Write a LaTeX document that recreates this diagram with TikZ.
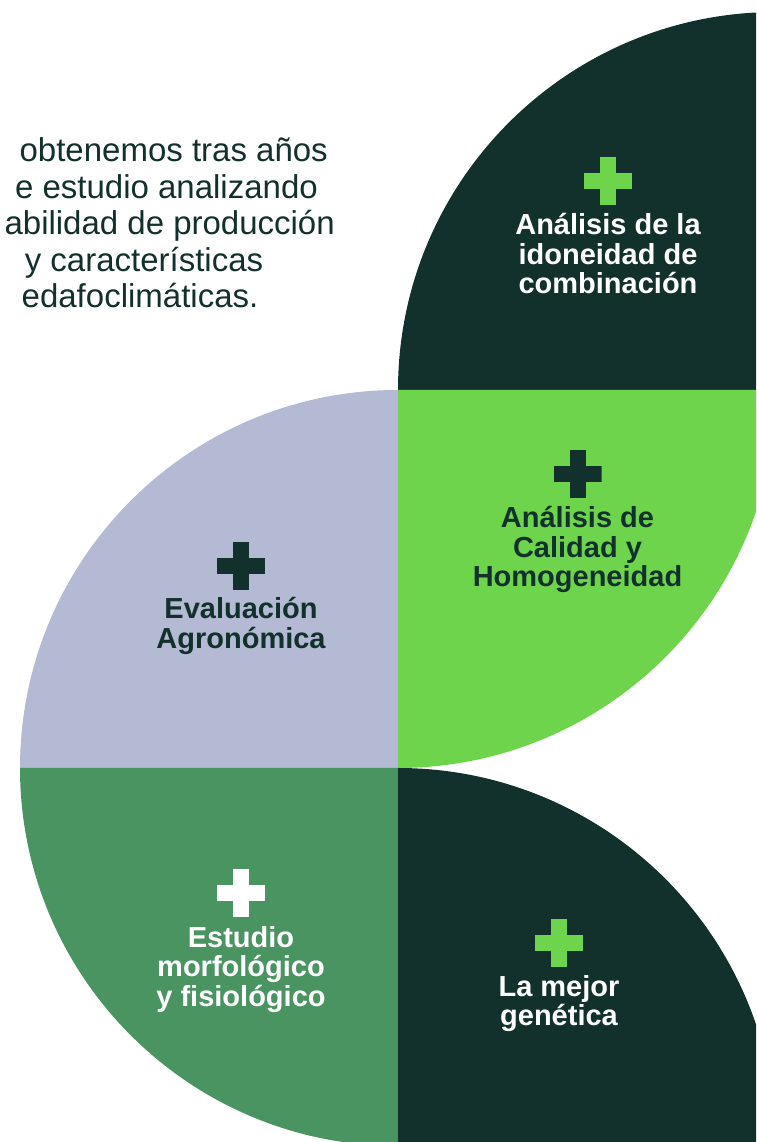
\documentclass[tikz,border=0pt]{standalone}
\usepackage{fontspec}
\setmainfont{Liberation Sans}
\usepackage{xcolor}
\usepackage{tikz}
\usetikzlibrary{positioning}

\definecolor{pinedark}{HTML}{12312C}
\definecolor{leafgreen}{HTML}{6ED44B}
\definecolor{lavgrey}{HTML}{B4B9D4}
\definecolor{mossgreen}{HTML}{4A9462}

\tikzset{
  plussign/.style={minimum size=48pt, inner sep=0pt, path picture={
      \fill[#1] ([xshift=-8pt]path picture bounding box.north) rectangle ([xshift=8pt]path picture bounding box.south);
      \fill[#1] ([yshift=8pt]path picture bounding box.west) rectangle ([yshift=-8pt]path picture bounding box.east);}},
  blocktext/.style={align=center, inner sep=0pt, text=#1,
      font=\fontsize{29}{29.5}\selectfont\bfseries},
  introtext/.style={inner sep=0pt, text=pinedark,
      font=\fontsize{33}{36.5}\selectfont}
}

\begin{document}
\begin{tikzpicture}[x=1pt, y=1pt]
        \useasboundingbox (0,0) rectangle (756,1142);
        \clip (0,0) rectangle (756,1142);

        % Add the quarter discs
        \fill[pinedark]  (776,752) -- (398,752) arc[start angle=180, end angle=90, radius=378] -- cycle;
        \fill[leafgreen] (398,752) -- (776,752) arc[start angle=0, end angle=-90, radius=378] -- cycle;
        \fill[lavgrey]   (398,374) -- (398,752) arc[start angle=90, end angle=180, radius=378] -- cycle;
        \fill[mossgreen] (398,374) -- (20,374) arc[start angle=180, end angle=270, radius=378] -- cycle;
        \fill[pinedark]  (398,-4) -- (776,-4) arc[start angle=0, end angle=90, radius=378] -- cycle;

        % Add the intro text
        \node[introtext, anchor=base east] (t1) at (328,980)   {obtenemos tras años};
        \node[introtext, anchor=base east] (t2) at (318,943.5) {e estudio analizando};
        \node[introtext, anchor=base east] (t3) at (335,907)   {abilidad de producción};
        \node[introtext, anchor=base]      (t4) at (144,870.5) {y características};
        \node[introtext, anchor=base]      (t5) at (140,834)   {edafoclimáticas.};

        % Add the plus signs and their texts
        \node[plussign=leafgreen] (p1) at (608,961)   {};
        \node[plussign=pinedark]  (p2) at (577.5,668) {};
        \node[plussign=pinedark]  (p3) at (241,576)   {};
        \node[plussign=white]     (p4) at (241,249)   {};
        \node[plussign=leafgreen] (p5) at (559,199)   {};

        \node[blocktext=white,    below=8pt of p1]  (l1) {Análisis de la\\idoneidad de\\combinación};
        \node[blocktext=pinedark, below=8pt of p2]  (l2) {Análisis de\\Calidad y\\Homogeneidad};
        \node[blocktext=pinedark, below=7pt of p3]  (l3) {Evaluación\\Agronómica};
        \node[blocktext=white,    below=9pt of p4]  (l4) {Estudio\\morfológico\\y fisiológico};
        \node[blocktext=white,    below=8pt of p5]  (l5) {La mejor\\genética};
    \end{tikzpicture}
\end{document}
